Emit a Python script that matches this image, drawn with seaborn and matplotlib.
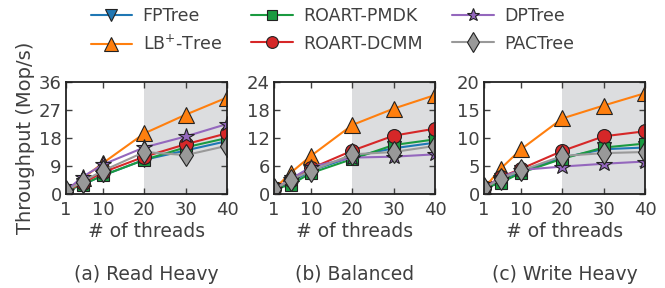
import numpy as np
import pandas as pd
import matplotlib
matplotlib.use("Agg")
import matplotlib.pyplot as plt
import seaborn as sns
from matplotlib.lines import Line2D

threads = [1, 5, 10, 20, 30, 40]
systems = ["FPTree", "LB$^{+}$-Tree", "ROART-PMDK", "ROART-DCMM", "DPTree", "PACTree"]
panel_titles = ["(a) Read Heavy", "(b) Balanced", "(c) Write Heavy"]

read_heavy = {
    "FPTree":        [1.0, 3.0, 6.0, 11.0, 14.0, 17.0],
    "LB$^{+}$-Tree": [1.0, 5.0, 10.0, 19.5, 25.5, 31.0],
    "ROART-PMDK":    [1.0, 3.0, 6.0, 11.0, 15.0, 18.0],
    "ROART-DCMM":    [1.0, 3.5, 7.0, 12.0, 16.0, 19.5],
    "DPTree":        [1.0, 5.5, 9.5, 15.0, 18.5, 22.5],
    "PACTree":       [1.0, 4.0, 7.5, 13.5, 12.5, 15.5],
}
balanced = {
    "FPTree":        [1.0, 2.5, 5.0, 8.0, 9.8, 11.0],
    "LB$^{+}$-Tree": [1.0, 4.5, 8.2, 14.8, 18.3, 21.2],
    "ROART-PMDK":    [1.0, 2.0, 4.5, 7.5, 10.5, 11.7],
    "ROART-DCMM":    [1.0, 3.0, 5.5, 9.3, 12.5, 14.0],
    "DPTree":        [1.0, 3.2, 5.8, 7.8, 8.0, 8.5],
    "PACTree":       [1.0, 3.0, 5.0, 8.5, 9.0, 10.3],
}
write_heavy = {
    "FPTree":        [1.0, 2.5, 4.0, 6.5, 8.0, 8.3],
    "LB$^{+}$-Tree": [1.0, 4.5, 8.0, 13.5, 15.8, 18.0],
    "ROART-PMDK":    [1.0, 2.0, 3.8, 6.3, 8.3, 9.0],
    "ROART-DCMM":    [1.0, 3.0, 4.5, 7.7, 10.3, 11.2],
    "DPTree":        [1.0, 3.0, 4.3, 4.9, 5.4, 5.8],
    "PACTree":       [1.0, 2.7, 4.2, 6.8, 7.3, 7.5],
}
y_limits = [36, 24, 20]
y_ticks = [[0, 9, 18, 27, 36], [0, 6, 12, 18, 24], [0, 5, 10, 15, 20]]
x_ticks = [1, 10, 20, 30, 40]

colors = {
    "FPTree": "#1f77b4",
    "LB$^{+}$-Tree": "#ff7f0e",
    "ROART-PMDK": "#1a9a40",
    "ROART-DCMM": "#d62728",
    "DPTree": "#9467bd",
    "PACTree": "#999999",
}
markers = {
    "FPTree": "v",
    "LB$^{+}$-Tree": "^",
    "ROART-PMDK": "s",
    "ROART-DCMM": "o",
    "DPTree": "*",
    "PACTree": "d",
}
msizes = {"FPTree": 10.5, "LB$^{+}$-Tree": 11.5, "ROART-PMDK": 9, "ROART-DCMM": 10,
          "DPTree": 11.5, "PACTree": 11.5}

sns.set_theme(style="ticks")
txt = "#404040"
plt.rcParams["font.family"] = ["DejaVu Sans"]
plt.rcParams["text.color"] = txt
plt.rcParams["axes.labelcolor"] = txt
plt.rcParams["xtick.color"] = txt
plt.rcParams["ytick.color"] = txt

fig = plt.figure(figsize=(6.65, 2.88), dpi=100)
lefts = [66, 274, 484]
width = 161
axes = []
for l in lefts:
    ax = fig.add_axes([l / 665, 1 - 194 / 288, width / 665, 112 / 288])
    axes.append(ax)

datasets = [read_heavy, balanced, write_heavy]
for i, (ax, data) in enumerate(zip(axes, datasets)):
    rows = []
    for s in systems:
        for t, v in zip(threads, data[s]):
            rows.append({"threads": t, "value": v, "system": s})
    df = pd.DataFrame(rows)
    ax.axvspan(20, 40, color="#dcdddf", zorder=0, lw=0)
    for s in systems:
        sub = df[df["system"] == s]
        sns.lineplot(data=sub, x="threads", y="value", ax=ax, color=colors[s],
                     marker=markers[s], markersize=msizes[s], markeredgecolor="#222222",
                     markeredgewidth=0.8, markerfacecolor=colors[s], lw=1.5,
                     legend=False, zorder=3)
    ax.set_xlim(1, 40)
    ax.set_ylim(0, y_limits[i])
    ax.set_xticks(x_ticks)
    ax.set_yticks(y_ticks[i])
    ax.tick_params(direction="in", top=True, right=True, labelsize=13, length=4,
                   width=1, pad=3, colors=txt, labelcolor=txt)
    ax.tick_params(axis="x", pad=5)
    for sp in ax.spines.values():
        sp.set_linewidth(1.3)
        sp.set_color("#222222")
        sp.set_zorder(5)
    ax.set_xlabel("# of threads", fontsize=13.5, labelpad=2)
    ax.set_ylabel("")
    ax.text(0.5, -0.63, panel_titles[i], transform=ax.transAxes, ha="center",
            va="top", fontsize=13.5, color=txt)

axes[0].set_ylabel("Throughput (Mop/s)", fontsize=14, labelpad=3)

handles = [Line2D([], [], color=colors[s], marker=markers[s], markersize=msizes[s] * 0.85,
                  markeredgecolor="#222222", markeredgewidth=0.8, lw=1.5) for s in systems]
fig.legend(handles, systems, loc="upper center", bbox_to_anchor=(0.5, 1.03), ncol=3,
           frameon=False, fontsize=12.5, columnspacing=1.7, handlelength=2.4,
           handletextpad=0.6, labelspacing=0.55)

fig.savefig("out.png", dpi=100)
